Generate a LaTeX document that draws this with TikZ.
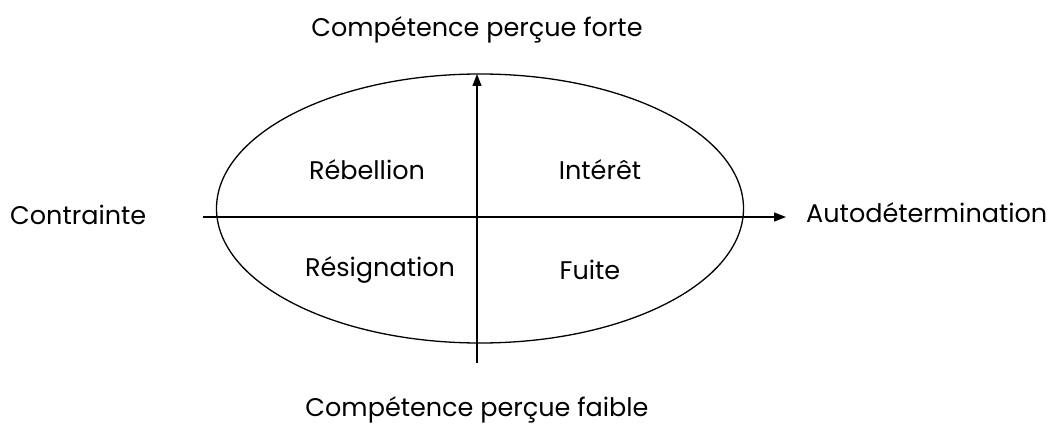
\documentclass[tikz,border=0pt]{standalone}
\usepackage{fontspec}
\setmainfont{Poppins}
\usetikzlibrary{arrows.meta,shapes.geometric}
\begin{document}
\begin{tikzpicture}[x=1pt,y=1pt,
  lbl/.style={inner sep=0pt,font=\fontsize{25.5}{30}\selectfont},
  axis/.style={line width=1.3pt,-{Triangle[length=12pt,width=9pt]}},
  oval/.style={draw,ellipse,line width=1.3pt,inner sep=0pt,minimum width=527pt,minimum height=269pt}]
\useasboundingbox (0,0) rectangle (1054,429);
\node[oval] (ell) at (480,220.5) {};
\coordinate (hs) at (203,212);
\coordinate (he) at (786,212);
\coordinate (vs) at (477,66);
\coordinate (ve) at (477,355);
\draw[axis] (hs) -- (he);
\draw[axis] (vs) -- (ve);
\node[lbl] (top) at (477,399) {Compétence perçue forte};
\node[lbl] (bot) at (477,19) {Compétence perçue faible};
\node[lbl,anchor=west] (left) at (10,214) {Contrainte};
\node[lbl,anchor=west] (right) at (806,216) {Autodétermination};
\node[lbl] (q1) at (367,259) {Rébellion};
\node[lbl] (q2) at (600,259) {Intérêt};
\node[lbl] (q3) at (380,159) {Résignation};
\node[lbl] (q4) at (590,159) {Fuite};
\end{tikzpicture}
\end{document}
